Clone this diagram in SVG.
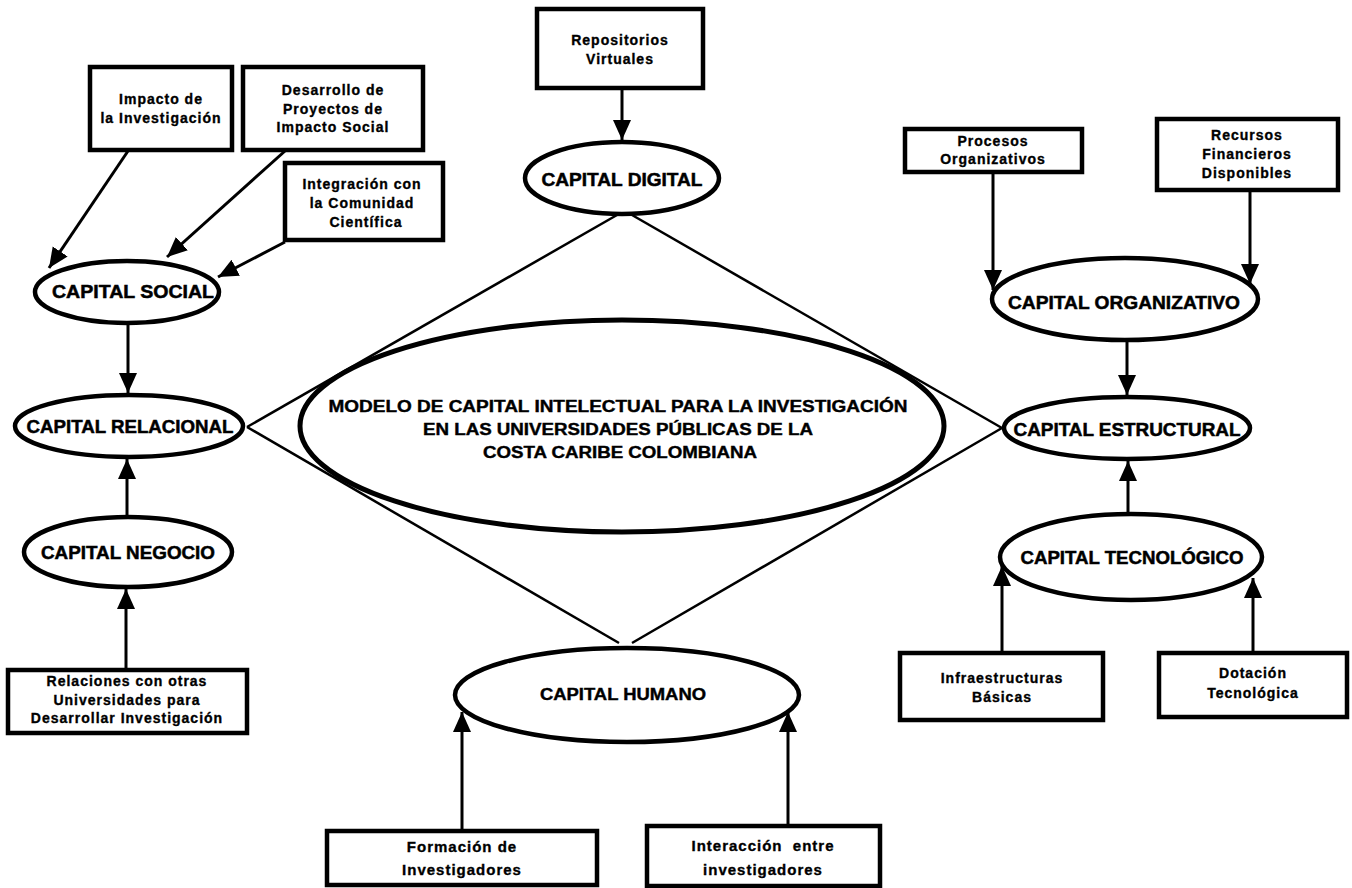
<svg xmlns="http://www.w3.org/2000/svg" width="1352" height="888" viewBox="0 0 1352 888">
<defs>
<marker id="ah" markerUnits="userSpaceOnUse" markerWidth="22" markerHeight="20" refX="20" refY="9" orient="auto">
<path d="M0,0 L20,9 L0,18 z" fill="#000"/>
</marker>
<style>
.box{fill:#fff;stroke:#000;stroke-width:4.5}
.ell{fill:#fff;stroke:#000;stroke-width:4.5}
.t{font-family:"Liberation Sans",Arial,sans-serif;font-weight:bold;font-size:14px;letter-spacing:1px;text-anchor:middle;fill:#000;stroke:#000;stroke-width:0.35}
.c{font-family:"Liberation Sans",Arial,sans-serif;font-weight:bold;font-size:18px;text-anchor:middle;fill:#000;stroke:#000;stroke-width:0.5}
.m{font-family:"Liberation Sans",Arial,sans-serif;font-weight:bold;font-size:16px;text-anchor:middle;fill:#000;stroke:#000;stroke-width:0.4}
.arr{stroke:#000;stroke-width:3;fill:none;marker-end:url(#ah)}
.dia{stroke:#000;stroke-width:2.5;fill:none}
</style>
</defs>
<rect width="1352" height="888" fill="#fff"/>

<g id="modelo">
<ellipse class="ell" cx="622" cy="426" rx="322" ry="106" style="stroke-width:5"/>
<text class="m" x="618" y="412" textLength="579" lengthAdjust="spacingAndGlyphs">MODELO DE CAPITAL INTELECTUAL PARA LA INVESTIGACIÓN</text>
<text class="m" x="618" y="435" textLength="390" lengthAdjust="spacingAndGlyphs">EN LAS UNIVERSIDADES PÚBLICAS DE LA</text>
<text class="m" x="620" y="458" textLength="274" lengthAdjust="spacingAndGlyphs">COSTA CARIBE COLOMBIANA</text>
</g>

<g id="capital-social">
<ellipse class="ell" cx="127" cy="292" rx="92" ry="31"/>
<text class="c" x="133" y="298" textLength="162" lengthAdjust="spacingAndGlyphs">CAPITAL SOCIAL</text>
</g>
<g id="capital-relacional">
<ellipse class="ell" cx="129" cy="426" rx="114" ry="31"/>
<text class="c" x="130" y="433" textLength="207" lengthAdjust="spacingAndGlyphs">CAPITAL RELACIONAL</text>
</g>
<g id="capital-negocio">
<ellipse class="ell" cx="128" cy="552" rx="104" ry="35"/>
<text class="c" x="128" y="559" textLength="174" lengthAdjust="spacingAndGlyphs">CAPITAL NEGOCIO</text>
</g>
<g id="capital-digital">
<ellipse class="ell" cx="622" cy="178" rx="97" ry="36"/>
<text class="c" x="622" y="186" textLength="161" lengthAdjust="spacingAndGlyphs">CAPITAL DIGITAL</text>
</g>
<g id="capital-organizativo">
<ellipse class="ell" cx="1125" cy="299" rx="133" ry="41"/>
<text class="c" x="1124" y="309" textLength="232" lengthAdjust="spacingAndGlyphs">CAPITAL ORGANIZATIVO</text>
</g>
<g id="capital-estructural">
<ellipse class="ell" cx="1127" cy="428" rx="123" ry="31"/>
<text class="c" x="1127" y="436" textLength="227" lengthAdjust="spacingAndGlyphs">CAPITAL ESTRUCTURAL</text>
</g>
<g id="capital-tecnologico">
<ellipse class="ell" cx="1131" cy="557" rx="131" ry="43"/>
<text class="c" x="1132" y="564" textLength="223" lengthAdjust="spacingAndGlyphs">CAPITAL TECNOLÓGICO</text>
</g>
<g id="capital-humano">
<ellipse class="ell" cx="627" cy="695" rx="172" ry="47"/>
<text class="m" x="623" y="700" textLength="166" lengthAdjust="spacingAndGlyphs">CAPITAL HUMANO</text>
</g>

<g id="impacto-investigacion">
<rect class="box" x="90" y="67" width="142" height="83"/>
<text class="t" x="161" y="104">Impacto de</text>
<text class="t" x="161" y="123">la Investigación</text>
</g>
<g id="desarrollo-proyectos">
<rect class="box" x="243" y="67" width="180" height="83"/>
<text class="t" x="333" y="95">Desarrollo de</text>
<text class="t" x="333" y="114">Proyectos de</text>
<text class="t" x="333" y="132">Impacto Social</text>
</g>
<g id="integracion-comunidad">
<rect class="box" x="285" y="163" width="158" height="77"/>
<text class="t" x="362" y="189">Integración con</text>
<text class="t" x="362" y="208">la Comunidad</text>
<text class="t" x="366" y="227">Científica</text>
</g>
<g id="repositorios-virtuales">
<rect class="box" x="537" y="9" width="166" height="79"/>
<text class="t" x="620" y="45">Repositorios</text>
<text class="t" x="620" y="64">Virtuales</text>
</g>
<g id="procesos-organizativos">
<rect class="box" x="905" y="129" width="177" height="43"/>
<text class="t" x="993" y="146">Procesos</text>
<text class="t" x="993" y="164">Organizativos</text>
</g>
<g id="recursos-financieros">
<rect class="box" x="1157" y="119" width="181" height="71"/>
<text class="t" x="1247" y="140">Recursos</text>
<text class="t" x="1247" y="159">Financieros</text>
<text class="t" x="1247" y="178">Disponibles</text>
</g>
<g id="relaciones-universidades">
<rect class="box" x="8" y="670" width="239" height="63"/>
<text class="t" x="127" y="686">Relaciones con otras</text>
<text class="t" x="127" y="705">Universidades para</text>
<text class="t" x="127" y="723">Desarrollar Investigación</text>
</g>
<g id="infraestructuras-basicas">
<rect class="box" x="900" y="653" width="203" height="67"/>
<text class="t" x="1002" y="683">Infraestructuras</text>
<text class="t" x="1002" y="702">Básicas</text>
</g>
<g id="dotacion-tecnologica">
<rect class="box" x="1159" y="653" width="188" height="64"/>
<text class="t" x="1253" y="678">Dotación</text>
<text class="t" x="1253" y="698">Tecnológica</text>
</g>
<g id="formacion-investigadores">
<rect class="box" x="327" y="831" width="270" height="54"/>
<text class="t" x="462" y="852" style="font-size:15px">Formación de</text>
<text class="t" x="462" y="875" style="font-size:15px">Investigadores</text>
</g>
<g id="interaccion-investigadores">
<rect class="box" x="647" y="826" width="233" height="60"/>
<text class="t" x="763" y="851" style="font-size:15px" xml:space="preserve">Interacción  entre</text>
<text class="t" x="763" y="875" style="font-size:15px">investigadores</text>
</g>

<g id="connectors">
<line class="dia" x1="617" y1="215" x2="247" y2="427"/>
<line class="dia" x1="632" y1="215" x2="1002" y2="428"/>
<line class="dia" x1="247" y1="427" x2="619" y2="643"/>
<line class="dia" x1="1002" y1="428" x2="632" y2="643"/>
<line class="arr" x1="128" y1="151" x2="49" y2="268"/>
<line class="arr" x1="285" y1="151" x2="167" y2="257"/>
<line class="arr" x1="285" y1="242" x2="218" y2="277"/>
<line class="arr" x1="622" y1="88" x2="622" y2="140"/>
<line class="arr" x1="128" y1="323" x2="128" y2="393"/>
<line class="arr" x1="127" y1="516" x2="127" y2="459"/>
<line class="arr" x1="126" y1="670" x2="126" y2="589"/>
<line class="arr" x1="993" y1="172" x2="993" y2="290"/>
<line class="arr" x1="1250" y1="191" x2="1250" y2="284"/>
<line class="arr" x1="1127" y1="341" x2="1127" y2="395"/>
<line class="arr" x1="1128" y1="513" x2="1128" y2="461"/>
<line class="arr" x1="1002" y1="653" x2="1002" y2="566"/>
<line class="arr" x1="1253" y1="653" x2="1253" y2="578"/>
<line class="arr" x1="462" y1="831" x2="462" y2="712"/>
<line class="arr" x1="788" y1="826" x2="788" y2="712"/>
</g>
</svg>
